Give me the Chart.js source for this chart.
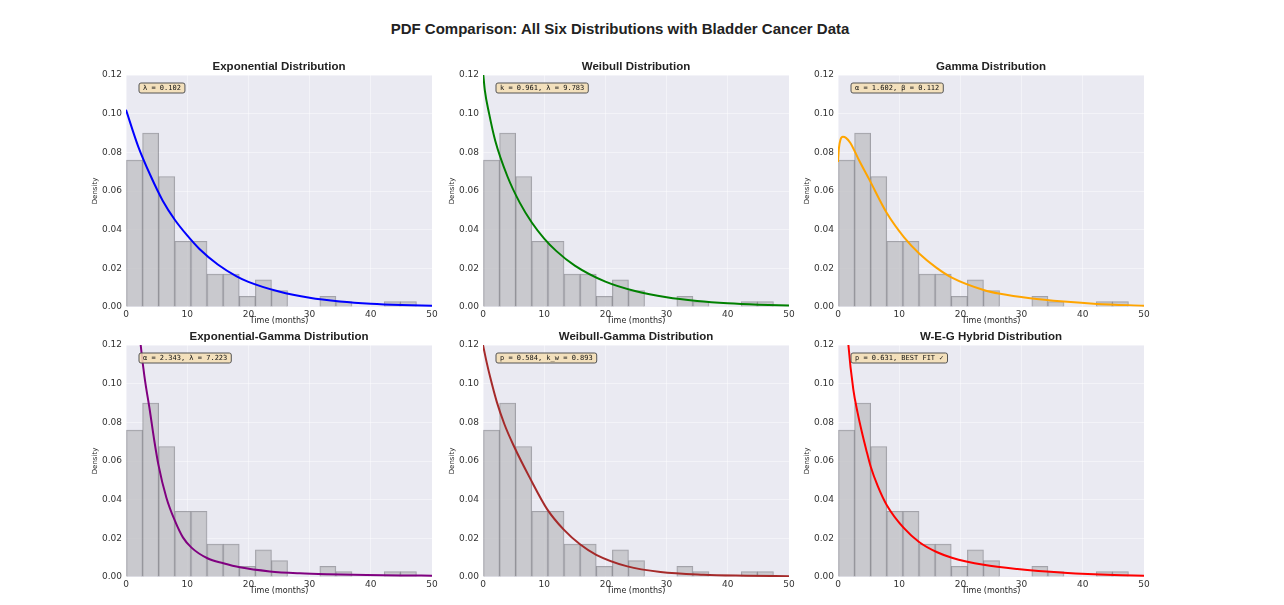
<!DOCTYPE html>
<html>
<head>
<meta charset="utf-8">
<script src="https://cdn.jsdelivr.net/npm/chart.js@4.4.0/dist/chart.umd.min.js"></script>
<style>
  body { margin: 0; background: #fff; width: 1284px; height: 605px; overflow: hidden; position: relative; font-family: "Liberation Sans", Arial, sans-serif; }
  #title { position: absolute; left: 0; width: 1240px; top: 20px; text-align: center; font-weight: bold; font-size: 15px; color: #222; }
  canvas { position: absolute; }
</style>
</head>
<body>
<div id="title">PDF Comparison: All Six Distributions with Bladder Cancer Data</div>

<script>
// Histogram of the bladder cancer data (density, bins of ~2.63 months)
const binEdges = [0.08, 2.71, 5.34, 7.98, 10.61, 13.24, 15.87, 18.51, 21.14, 23.77, 26.40, 29.04, 31.67, 34.30, 36.93, 39.57, 42.20, 44.83, 47.46, 50.09];
const binDensity = [0.076, 0.090, 0.0675, 0.034, 0.034, 0.017, 0.017, 0.0055, 0.014, 0.0085, null, null, 0.0055, 0.0028, null, null, 0.0028, 0.0028, null];

// Fitted curves
const expX = [0, 2, 4, 6, 8, 10, 12, 15, 18, 20, 25, 30, 35, 40, 45, 50];
const expY = [0.102, 0.083, 0.068, 0.055, 0.045, 0.037, 0.030, 0.022, 0.016, 0.013, 0.008, 0.0048, 0.0029, 0.0017, 0.001, 0.0006];

const weibX = [0.05, 0.3, 1, 2, 4, 6, 8, 10, 12, 15, 20, 25, 30, 35, 40, 45, 50];
const weibY = [0.120, 0.112, 0.100, 0.086, 0.0675, 0.0540, 0.0436, 0.0354, 0.0289, 0.0214, 0.0131, 0.0081, 0.0050, 0.0031, 0.0019, 0.0012, 0.0008];

const gammaX = [0, 0.15, 0.4, 0.8, 1.3, 2, 3.5, 5.1, 7.9, 10.8, 13.3, 16, 18.6, 23.8, 26.5, 31.4, 36.9, 42.3, 50];
const gammaY = [0.075, 0.082, 0.0865, 0.088, 0.0875, 0.0850, 0.0755, 0.066, 0.049, 0.036, 0.0275, 0.0205, 0.0152, 0.0088, 0.0068, 0.0045, 0.0028, 0.0016, 0.0007];

const egX = [2.0, 2.4, 3.0, 3.9, 4.6, 5.3, 6.6, 8, 9.3, 10.7, 13.3, 15.9, 18.6, 23.5, 28.4, 33, 39.3, 45, 50];
const egY = [0.135, 0.12, 0.104, 0.086, 0.071, 0.058, 0.041, 0.029, 0.0205, 0.0152, 0.0097, 0.0071, 0.0050, 0.0029, 0.0019, 0.0014, 0.001, 0.0008, 0.0007];

const wgX = [0, 0.6, 1.2, 2.24, 3.5, 5, 7.7, 10.5, 13.2, 15.9, 18.5, 23.6, 29, 36, 43, 50];
const wgY = [0.12, 0.111, 0.103, 0.0907, 0.079, 0.068, 0.051, 0.0350, 0.0245, 0.0168, 0.0115, 0.0055, 0.0026, 0.0012, 0.0007, 0.0004];

const wegX = [1.4, 1.7, 2.5, 3.2, 3.9, 4.6, 5.35, 6.5, 8, 10.7, 13.3, 16.2, 18.6, 23.8, 29.3, 36.9, 45.1, 50];
const wegY = [0.135, 0.12, 0.097, 0.085, 0.075, 0.066, 0.057, 0.047, 0.037, 0.0255, 0.0180, 0.0128, 0.0100, 0.0063, 0.0041, 0.0022, 0.001, 0.0007];

const xTicks = [0, 10, 20, 30, 40, 50];
const yTicks = [0, 0.02, 0.04, 0.06, 0.08, 0.10, 0.12];

const panels = [
  { title: "Exponential Distribution", note: "λ = 0.102", xs: expX, ys: expY, color: "#0000ff" },
  { title: "Weibull Distribution", note: "k = 0.961, λ = 9.783", xs: weibX, ys: weibY, color: "#008000" },
  { title: "Gamma Distribution", note: "α = 1.602, β = 0.112", xs: gammaX, ys: gammaY, color: "#ffa500" },
  { title: "Exponential-Gamma Distribution", note: "α = 2.343, λ = 7.223", xs: egX, ys: egY, color: "#800080" },
  { title: "Weibull-Gamma Distribution", note: "p = 0.584, k_w = 0.893", xs: wgX, ys: wgY, color: "#a52a2a" },
  { title: "W-E-G Hybrid Distribution", note: "p = 0.631, BEST FIT ✓", xs: wegX, ys: wegY, color: "#ff0000" }
];

// plot area boxes in the page
const plotLefts = [126, 483, 838];
const plotW = 306;
const plotTops = [75, 345];
const plotH = 232;
const AX_W = 44, AX_H = 24, PAD_T = 20, PAD_R = 10;

const deco = {
  id: "deco",
  beforeDraw(chart) {
    const { ctx, chartArea: a } = chart;
    ctx.save();
    ctx.fillStyle = "#eaeaf2";
    ctx.fillRect(a.left, a.top, a.right - a.left, a.bottom - a.top);
    ctx.restore();
  },
  afterDatasetsDraw(chart, args, opts) {
    const { ctx, chartArea: a } = chart;
    ctx.save();
    ctx.font = '7px "DejaVu Sans Mono"';
    const tw = ctx.measureText(opts.note).width;
    const x = a.left + 13, y = a.top + 8, w = tw + 8, h = 10;
    ctx.beginPath();
    ctx.roundRect(x, y, w, h, 2);
    ctx.fillStyle = "rgba(245,222,179,0.85)";
    ctx.fill();
    ctx.lineWidth = 1;
    ctx.strokeStyle = "#555";
    ctx.stroke();
    ctx.fillStyle = "#111";
    ctx.textBaseline = "middle";
    ctx.fillText(opts.note, x + 4, y + h / 2 + 0.5);

    ctx.font = 'bold 11.5px "Liberation Sans", Arial, sans-serif';
    ctx.textAlign = "center";
    ctx.fillStyle = "#222";
    ctx.fillText(opts.title, (a.left + a.right) / 2, a.top - 8);
    ctx.restore();
  }
};

const barData = binDensity.map((d, i) => ({ x: (binEdges[i] + binEdges[i + 1]) / 2, y: d }));

panels.forEach((p, i) => {
  const col = i % 3, row = Math.floor(i / 3);
  const cv = document.createElement("canvas");
  const w = plotW + AX_W + PAD_R, h = plotH + PAD_T + AX_H;
  cv.width = w; cv.height = h;
  cv.style.left = (plotLefts[col] - AX_W) + "px";
  cv.style.top = (plotTops[row] - PAD_T) + "px";
  document.body.appendChild(cv);

  new Chart(cv.getContext("2d"), {
    type: "bar",
    data: {
      datasets: [
        {
          type: "line",
          data: p.xs.map((x, k) => ({ x: x, y: p.ys[k] })),
          borderColor: p.color,
          borderWidth: 2,
          pointRadius: 0,
          cubicInterpolationMode: "monotone",
          fill: false,
          order: 0
        },
        {
          type: "bar",
          data: barData,
          backgroundColor: "rgba(195,195,200,0.85)",
          borderColor: "rgba(90,90,95,0.5)",
          borderWidth: 1,
          barPercentage: 1,
          categoryPercentage: 1,
          order: 1
        }
      ]
    },
    options: {
      responsive: false,
      devicePixelRatio: 1,
      animation: false,
      layout: { padding: { top: PAD_T, right: PAD_R, left: 0, bottom: 0 } },
      plugins: {
        legend: { display: false },
        tooltip: { enabled: false },
        deco: { title: p.title, note: p.note }
      },
      scales: {
        x: {
          type: "linear",
          offset: false,
          min: 0, max: 50,
          afterFit: s => { s.height = AX_H; },
          afterBuildTicks: s => { s.ticks = xTicks.map(v => ({ value: v })); },
          grid: { color: "rgba(255,255,255,0.45)", drawTicks: false, offset: false },
          border: { display: false },
          ticks: { padding: 2, color: "#333", font: { size: 9, family: "DejaVu Sans" }, maxRotation: 0 },
          title: { display: true, text: "Time (months)", color: "#222", font: { size: 8, family: "DejaVu Sans" }, padding: { top: 0, bottom: 5 } }
        },
        y: {
          min: 0, max: 0.12,
          afterFit: s => { s.width = AX_W; },
          afterBuildTicks: s => { s.ticks = yTicks.map(v => ({ value: v })); },
          grid: { color: "rgba(255,255,255,0.45)", drawTicks: false },
          border: { display: false },
          ticks: { padding: 4, color: "#333", font: { size: 9, family: "DejaVu Sans" }, callback: v => v.toFixed(2) },
          title: { display: true, text: "Density", color: "#222", font: { size: 7, family: "DejaVu Sans" }, padding: { top: 9, bottom: 0 } }
        }
      }
    },
    plugins: [deco]
  });
});
</script>
</body>
</html>
